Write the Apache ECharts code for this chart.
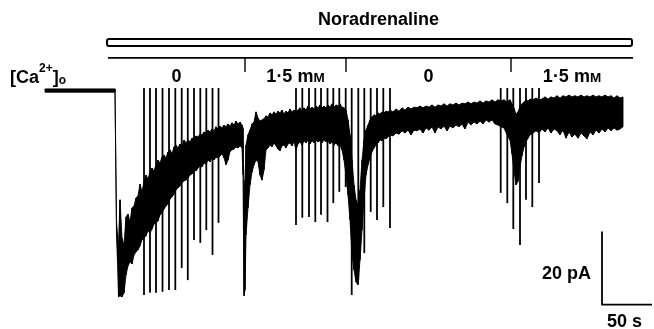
<!DOCTYPE html>
<html><head><meta charset="utf-8">
<script src="https://cdn.jsdelivr.net/npm/echarts@6/dist/echarts.min.js"></script>
<style>html,body{margin:0;padding:0;background:#fff}#c{width:654px;height:329px}</style>
</head><body><div id="c"></div>
<script>
// Membrane current trace: [time (s), upper envelope (pA), lower envelope (pA)]
const traceEnvelope = [
  [0, 0.3, -0.6], [70, 0.3, -0.6], [71.5, -36, -40], [72.5, -39.7, -47.1], [73.5, -42.5, -56.7],
  [75, -30.1, -56.4], [77, -40.5, -56.7], [79, -42.5, -55.6], [81, -34.8, -50.7], [83, -34.0, -48.2],
  [85, -36.2, -47.1], [87, -32.3, -47.7], [89, -31.8, -45.2], [91, -29.6, -44.4], [93, -29.0, -43.8],
  [95, -25.8, -42.7], [97, -27.9, -41.1], [99, -25.2, -40.5], [101, -23.3, -40.0], [103, -24.4, -38.6],
  [105, -22.5, -39.2], [107, -21.4, -38.1], [109, -22.2, -36.7], [111, -20.5, -36.4], [113, -19.2, -35.9],
  [115, -20.0, -34.2], [117, -18.4, -33.7], [119, -17.8, -32.6], [121, -18.6, -31.8], [123, -17.0, -31.2],
  [125, -16.4, -29.9], [127, -17.5, -29.3], [129, -15.6, -28.5], [131, -15.1, -27.4], [133, -15.9, -26.8],
  [135, -14.8, -26.3], [137, -15.3, -25.5], [139, -13.7, -24.9], [141, -14.5, -24.7], [143, -13.7, -24.1],
  [145, -14.2, -23.3], [147, -13.2, -23.0], [149, -13.4, -21.9], [151, -12.6, -22.2], [153, -12.9, -21.4],
  [155, -12.1, -20.8], [157, -12.3, -21.1], [159, -11.5, -20.0], [161, -11.8, -20.3], [163, -11.0, -19.2],
  [165, -11.5, -19.7], [167, -10.7, -18.6], [169, -11.2, -19.2], [171, -10.1, -18.4], [173, -10.7, -18.6],
  [175, -9.9, -18.1], [177, -10.4, -17.5], [179, -9.6, -18.6], [181, -10.1, -20.5], [183, -9.3, -19.2],
  [185, -9.9, -16.9], [187, -9.0, -16.4], [189, -9.6, -16.2], [191, -8.5, -15.6], [193, -9.3, -15.9],
  [195, -8.8, -15.3], [197, -9.6, -15.9], [198, -10.4, -23.3], [199, -30.1, -56.4], [200, -24.7, -54.8],
  [201, -15.1, -39.7], [203, -12.3, -32.3], [205, -11.0, -26.0], [207, -9.3, -22.5], [209, -8.8, -20.5],
  [211, -6.0, -19.2], [213, -7.7, -19.7], [215, -8.5, -23.3], [217, -8.2, -24.7], [219, -7.9, -21.9],
  [221, -7.1, -16.4], [223, -7.4, -15.9], [225, -6.3, -15.1], [227, -6.8, -15.6], [229, -6.0, -14.5],
  [231, -6.6, -15.3], [233, -5.8, -16.2], [235, -6.3, -16.7], [237, -5.5, -15.3], [239, -6.6, -15.1],
  [241, -5.8, -15.9], [243, -6.3, -14.8], [245, -5.2, -14.5], [247, -6.0, -15.3], [249, -5.5, -14.2],
  [251, -6.0, -16.4], [253, -5.5, -14.8], [255, -4.9, -14.2], [257, -5.8, -15.1], [259, -4.9, -13.9],
  [261, -5.5, -14.5], [263, -4.4, -13.7], [265, -5.2, -14.8], [267, -4.7, -13.9], [269, -5.2, -14.5],
  [271, -4.4, -13.7], [273, -4.9, -14.2], [275, -4.1, -13.9], [277, -4.9, -14.5], [279, -4.4, -13.7],
  [281, -4.9, -14.2], [283, -4.1, -13.9], [285, -4.7, -14.8], [287, -3.8, -14.2], [289, -4.7, -15.1],
  [291, -4.1, -14.5], [293, -4.4, -15.3], [295, -3.8, -15.1], [297, -4.7, -16.4], [299, -4.9, -19.2],
  [301, -5.5, -23.3], [303, -8.2, -28.8], [305, -12.3, -35.6], [307, -19.2, -45.2], [309, -26.0, -49.3],
  [311, -30.1, -52.6], [313, -31.5, -53.4], [315, -27.4, -46.6], [317, -19.2, -38.4], [319, -13.7, -30.1],
  [321, -11.0, -23.3], [323, -9.6, -20.5], [325, -8.2, -18.6], [327, -7.4, -16.9], [329, -6.8, -15.9],
  [331, -7.1, -15.1], [333, -6.3, -14.5], [335, -6.6, -13.7], [337, -6.0, -13.9], [339, -6.3, -13.2],
  [341, -5.8, -13.4], [343, -6.0, -12.9], [345, -5.5, -12.3], [348, -6.0, -12.6], [351, -5.2, -11.8],
  [354, -5.8, -12.1], [357, -4.9, -11.2], [360, -5.5, -11.8], [363, -4.7, -11.0], [366, -5.2, -12.3],
  [369, -4.7, -11.0], [372, -4.9, -11.2], [375, -4.4, -10.7], [378, -4.9, -11.8], [381, -4.4, -10.4],
  [384, -4.7, -11.0], [387, -4.1, -10.1], [390, -4.7, -11.8], [393, -4.1, -10.1], [396, -4.4, -10.7],
  [399, -3.8, -9.9], [402, -4.4, -11.2], [405, -3.8, -9.9], [408, -4.1, -10.4], [411, -3.6, -9.6],
  [414, -4.1, -10.1], [417, -3.6, -9.3], [420, -3.8, -10.7], [423, -3.3, -8.8], [426, -3.8, -9.6],
  [429, -3.3, -8.8], [432, -3.6, -9.3], [435, -3.0, -8.5], [438, -3.6, -9.3], [441, -3.0, -8.2],
  [444, -3.3, -8.8], [447, -2.7, -8.2], [450, -3.3, -9.3], [453, -2.7, -9.6], [456, -3.0, -10.1],
  [459, -2.7, -10.4], [462, -3.3, -12.3], [465, -2.7, -13.7], [467, -3.8, -17.5], [469, -5.0, -22.0],
  [471, -6.6, -26.0], [473, -6.0, -25.0], [475, -4.6, -21.0], [477, -3.8, -18.0], [479, -3.3, -15.6],
  [481, -2.7, -14.2], [483, -3.0, -13.2], [485, -2.5, -12.3], [488, -2.7, -11.8], [491, -2.2, -11.2],
  [494, -2.7, -11.8], [497, -2.5, -10.7], [500, -1.9, -11.5], [503, -2.5, -10.4], [506, -1.9, -11.8],
  [509, -2.2, -10.7], [512, -1.6, -11.2], [515, -2.2, -12.3], [518, -1.6, -11.0], [521, -1.9, -13.2],
  [524, -1.4, -11.5], [527, -1.9, -12.9], [530, -1.6, -12.1], [533, -1.9, -13.2], [536, -1.4, -11.8],
  [539, -1.9, -12.6], [542, -1.6, -13.4], [545, -1.9, -11.5], [548, -1.4, -12.3], [551, -1.9, -11.0],
  [554, -1.6, -11.8], [557, -1.9, -10.7], [560, -1.4, -11.5], [563, -1.9, -10.4], [566, -1.6, -11.2],
  [569, -2.2, -10.4], [572, -1.6, -11.0], [575, -2.2, -10.7], [578, -1.9, -10.1]
];

// Voltage-ramp current excursions: time (s) and most negative current reached (pA)
const spikeTimes = [
  99, 105, 111, 117.5, 124, 130.3, 136.7, 142.8, 149, 155.3, 161.3, 167.5, 173.5,
  251, 257.3, 264, 270.3, 276, 282.5, 288.3, 294.3, 300.7,
  306.7, 313.3, 319.3, 325.7, 332, 338.3, 345,
  455.7, 462.3, 468.3, 475, 481, 487.3, 494
];
const spikeBottoms = [
  -56.2, -55.6, -55.6, -55.3, -54.8, -54.8, -48.8, -52.1, -41.1, -41.9, -38.4, -45.2, -36.4,
  -37.0, -35.0, -34.8, -36.2, -34.2, -36.2, -31.0, -27.9, -26.6,
  -56.2, -52.1, -44.7, -33.4, -35.6, -32.1, -37.8,
  -28.2, -31.0, -38.1, -42.5, -30.1, -32.1, -25.5
];
const spikeTop = 0.55;

const drugLabel = 'Noradrenaline';
const drugWindow = [61, 588];
const caBounds = [63, 200, 301, 466, 588];
const caLabels = ['0', '1·5 mM', '0', '1·5 mM'];
const scaleOrigin = [557, -58.8];
const scaleBarPA = 20;
const scaleBarS = 50;

const FONT = '"Liberation Sans", Arial, sans-serif';
const FS = 18;
const FW = 'bold';

function richLabel(s) {
  if (/mM$/.test(s)) return '{n|' + s.slice(0, -1) + '}{sc|M}';
  return '{n|' + s + '}';
}
const labelRich = {
  n: { fontSize: FS, fontFamily: FONT, fontWeight: FW, lineHeight: 20, verticalAlign: 'bottom', fill: '#000' },
  sc: { fontSize: 13.5, fontFamily: FONT, fontWeight: FW, lineHeight: 17, verticalAlign: 'bottom', fill: '#000' }
};

const chart = echarts.init(document.getElementById('c'), null, { renderer: 'canvas' });

chart.setOption({
  animation: false,
  backgroundColor: '#fff',
  grid: { left: 0, right: 0, top: 0, bottom: 0, containLabel: false },
  xAxis: { type: 'value', min: -45, max: 609, show: false },
  yAxis: { type: 'value', min: -65.5, max: 24.66, show: false },
  series: [
    {
      type: 'custom', name: 'current', silent: true, clip: false,
      data: traceEnvelope.map(r => [r[0], r[1], r[2]]),
      encode: { x: 0, y: [1, 2] },
      renderItem: function (params, api) {
        const i = params.dataIndex;
        if (i >= traceEnvelope.length - 1) return null;
        const a = traceEnvelope[i], b = traceEnvelope[i + 1];
        const pts = [api.coord([a[0], a[1]]), api.coord([b[0], b[1]]), api.coord([b[0], b[2]]), api.coord([a[0], a[2]])];
        return { type: 'polygon', shape: { points: pts }, style: { fill: '#000', stroke: '#000', lineWidth: 0.9 } };
      }
    },
    {
      type: 'custom', name: 'ramps', silent: true, clip: false,
      data: spikeTimes.map((t, i) => [t, spikeBottoms[i]]),
      encode: { x: 0, y: 1 },
      renderItem: function (params, api) {
        const p1 = api.coord([api.value(0), spikeTop]);
        const p2 = api.coord([api.value(0), api.value(1)]);
        return { type: 'line', shape: { x1: p1[0], y1: p1[1], x2: p2[0], y2: p2[1] }, style: { stroke: '#000', lineWidth: 1.8 } };
      }
    },
    {
      type: 'custom', name: 'annotations', silent: true, clip: false,
      data: [[drugWindow[0], 0]],
      encode: { x: 0, y: 1 },
      renderItem: function (params, api) {
        const X = t => api.coord([t, 0])[0];
        const children = [];
        children.push({ type: 'rect', shape: { x: X(drugWindow[0]) + 1, y: 39, width: X(drugWindow[1]) - X(drugWindow[0]) - 2, height: 7, r: 2 },
          style: { fill: '#fff', stroke: '#000', lineWidth: 2 } });
        children.push({ type: 'line', shape: { x1: X(caBounds[0]), y1: 57.8, x2: X(caBounds[caBounds.length - 1]), y2: 57.8 },
          style: { stroke: '#000', lineWidth: 1.8 } });
        for (let k = 1; k < caBounds.length - 1; k++) {
          children.push({ type: 'line', shape: { x1: X(caBounds[k]), y1: 57.8, x2: X(caBounds[k]), y2: 72 },
            style: { stroke: '#000', lineWidth: 1.4 } });
        }
        for (let k = 0; k < caLabels.length; k++) {
          const cx = (X(caBounds[k]) + X(caBounds[k + 1])) / 2;
          children.push({ type: 'text', x: cx, y: 75.6,
            style: { text: richLabel(caLabels[k]), rich: labelRich, align: 'center', verticalAlign: 'middle', fill: '#000' } });
        }
        const o = api.coord(scaleOrigin);
        const top = api.coord([scaleOrigin[0], scaleOrigin[1] + scaleBarPA]);
        const right = api.coord([scaleOrigin[0] + scaleBarS, scaleOrigin[1]]);
        children.push({ type: 'polyline', shape: { points: [top, o, right] }, style: { stroke: '#000', lineWidth: 1.8, fill: null } });
        children.push({ type: 'text', x: o[0] - 11, y: 274,
          style: { text: scaleBarPA + ' pA', fontSize: FS, fontFamily: FONT, fontWeight: FW, align: 'right', verticalAlign: 'middle', fill: '#000' } });
        children.push({ type: 'text', x: o[0] + 5, y: 322.5,
          style: { text: scaleBarS + ' s', fontSize: FS, fontFamily: FONT, fontWeight: FW, align: 'left', verticalAlign: 'middle', fill: '#000' } });
        return { type: 'group', children: children };
      }
    }
  ],
  graphic: [
    { type: 'text', left: 318, top: 11,
      style: { text: drugLabel, fontSize: FS, fontFamily: FONT, fontWeight: FW, fill: '#000' } },
    { type: 'text', left: 10, top: 63,
      style: {
        text: '{a|[Ca}{sup|2+}{a|]}{sub|o}',
        rich: {
          a: { fontSize: FS, fontFamily: FONT, fontWeight: FW, lineHeight: 24, verticalAlign: 'bottom', fill: '#000' },
          sup: { fontSize: 12, fontFamily: FONT, fontWeight: FW, lineHeight: 14, verticalAlign: 'top', fill: '#000' },
          sub: { fontSize: 12, fontFamily: FONT, fontWeight: FW, lineHeight: 11, verticalAlign: 'bottom', fill: '#000' }
        }
      } }
  ]
});
</script></body></html>
